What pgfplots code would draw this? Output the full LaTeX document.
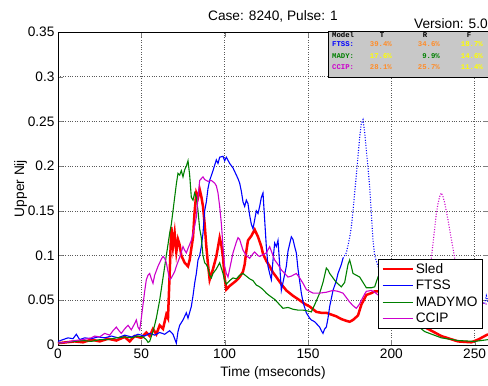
\documentclass[border=0pt]{standalone}
\usepackage{fontspec}
\setmainfont{Liberation Sans}
\setmonofont{Liberation Mono}
\usepackage{pgfplots}
\pgfplotsset{compat=1.18}

\definecolor{mlred}{RGB}{255,0,0}
\definecolor{mlblue}{RGB}{0,0,255}
\definecolor{mlgreen}{RGB}{0,128,0}
\definecolor{mlmag}{RGB}{204,0,204}
\definecolor{tblgray}{RGB}{200,200,200}
\definecolor{tblorange}{RGB}{255,140,40}
\definecolor{tblyellow}{RGB}{255,255,0}

\newcommand{\lbl}{\fontsize{13.7}{15}\selectfont}
\newcommand{\tbl}{\fontsize{7.3}{8}\selectfont\ttfamily\bfseries}

\begin{document}
\begin{tikzpicture}
\begin{axis}[
  name=ax,
  scale only axis,
  width=430pt, height=313pt,
  xmin=0, xmax=258,
  ymin=0, ymax=0.35,
  xtick={0,50,100,150,200,250},
  ytick={0,0.05,0.1,0.15,0.2,0.25,0.3,0.35},
  yticklabels={0,0.05,0.1,0.15,0.2,0.25,0.3,0.35},
  xticklabels={0,50,100,150,200,250},
  scaled y ticks=false,
  tick label style={font=\lbl},
  label style={font=\lbl},
  xlabel={Time (mseconds)},
  ylabel={Upper Nij},
  xlabel style={yshift=-1pt},
  ylabel style={yshift=-6pt},
  tick align=inside,
  major tick length=5pt,
  grid=major,
  major grid style={dotted, black!65, line width=0.6pt},
  axis line style={line width=0.8pt},
  clip=false,
  legend image code/.code={\draw[#1] (0pt,0pt) -- (30pt,0pt);},
  legend style={at={(0.988,0.275)}, anchor=north east, draw=black,
    line width=0.8pt, fill=white, font=\lbl, row sep=1.5pt,
    inner xsep=3pt, inner ysep=2pt, cells={anchor=west}},
]
% Sled
\addplot[mlred, line width=2.5pt] coordinates {
(0,0.002)(5,0.003)(10,0.004)(15,0.003)(20,0.006)(25,0.004)(30,0.007)(35,0.005)
(40,0.009)(43,0.004)(46,0.010)(50,0.008)(53,0.014)(55,0.010)(57,0.018)(59,0.012)
(61,0.022)(63,0.018)(65,0.034)(66,0.030)(67,0.080)(68,0.132)(69,0.110)(70,0.125)
(71,0.104)(72,0.118)(73,0.112)(74,0.100)(76,0.092)(78,0.088)(79,0.095)(80,0.108)
(81,0.120)(82,0.150)(83,0.170)(84,0.165)(85,0.174)(86,0.166)(87,0.155)(88,0.135)
(89,0.110)(90,0.090)(91,0.073)(93,0.085)(95,0.099)(97,0.120)(98,0.112)(99,0.098)
(100,0.075)(101,0.062)(103,0.066)(105,0.069)(107,0.072)(109,0.076)(111,0.082)
(112,0.090)(113,0.105)(114,0.117)(116,0.122)(118,0.129)(120,0.121)(122,0.110)
(123,0.102)(125,0.094)(127,0.088)(129,0.081)(131,0.076)(134,0.068)(137,0.061)
(141,0.055)(145,0.050)(148,0.046)(151,0.043)(155,0.037)(158,0.036)(161,0.036)
(164,0.034)(167,0.032)(170,0.029)(173,0.027)(175,0.026)(177,0.028)(180,0.033)
(182,0.045)(185,0.056)(188,0.058)(190,0.060)(195,0.060)(200,0.055)(210,0.040)
(220,0.020)(230,0.010)(240,0.004)(248,0.003)(252,0.006)(255,0.009)(258,0.012)
};
\addlegendentry{Sled}
% FTSS
\addplot[mlblue, line width=1.1pt] coordinates {
(0,0.004)(3,0.006)(6,0.008)(9,0.007)(11,0.012)(13,0.006)(16,0.008)(20,0.007)
(24,0.009)(28,0.008)(32,0.010)(36,0.008)(40,0.011)(44,0.009)(48,0.012)(52,0.010)
(55,0.013)(58,0.011)(61,0.014)(64,0.012)(67,0.016)(69,0.012)(71,0.002)(72,0.015)
(73,0.022)(75,0.028)(77,0.036)(78,0.030)(80,0.043)(81,0.055)(82,0.069)(83,0.080)
(84,0.095)(85,0.100)(86,0.110)(87,0.125)(88,0.150)(89,0.160)(90,0.175)(91,0.184)
(93,0.195)(95,0.207)(96,0.203)(97,0.210)(99,0.211)(100,0.206)(101,0.210)(103,0.203)
(105,0.198)(106,0.194)(108,0.186)(109,0.181)(110,0.172)(111,0.160)(112,0.155)
(113,0.162)(114,0.158)(115,0.145)(116,0.135)(117,0.130)(118,0.140)(119,0.150)
(120,0.147)(121,0.155)(122,0.165)(123,0.170)(124,0.140)(125,0.110)(126,0.088)
(127,0.080)(128,0.073)(129,0.095)(130,0.114)(131,0.110)(132,0.117)(133,0.090)
(134,0.061)(135,0.070)(137,0.088)(138,0.105)(140,0.121)(141,0.118)(142,0.110)
(143,0.103)(144,0.085)(146,0.058)(147,0.048)(149,0.036)(151,0.030)(152,0.028)
(154,0.026)(155,0.024)(157,0.020)(158,0.016)(159,0.013)(160,0.018)(161,0.020)
(162,0.030)(163,0.043)(164,0.052)(165,0.061)(167,0.072)(168,0.080)(170,0.090)
(171,0.097)
};
\addlegendentry{FTSS}
% MADYMO
\addplot[mlgreen, line width=1.1pt] coordinates {
(0,0.002)(5,0.003)(10,0.004)(15,0.005)(20,0.004)(25,0.006)(30,0.006)(35,0.008)
(40,0.009)(44,0.008)(48,0.010)(51,0.009)(53,0.006)(54,0.003)(55,0.004)(57,0.015)
(59,0.030)(61,0.050)(63,0.075)(65,0.100)(67,0.125)(68,0.135)(69,0.150)(70,0.165)
(71,0.180)(72,0.192)(73,0.190)(74,0.195)(75,0.188)(76,0.196)(77,0.200)(78,0.206)
(79,0.190)(80,0.165)(81,0.162)(82,0.170)(83,0.165)(84,0.150)(85,0.130)(86,0.120)
(87,0.100)(88,0.092)(89,0.090)(90,0.086)(91,0.078)(92,0.075)(93,0.080)(95,0.085)
(97,0.092)(98,0.086)(99,0.080)(100,0.072)(101,0.068)(103,0.072)(105,0.075)
(107,0.074)(109,0.078)(111,0.080)(113,0.077)(115,0.074)(117,0.072)(119,0.067)
(121,0.065)(123,0.062)(125,0.058)(127,0.055)(130,0.051)(133,0.045)(135,0.041)
(138,0.042)(141,0.040)(144,0.039)(147,0.039)(150,0.038)(152,0.037)(154,0.045)
(157,0.058)(159,0.070)(161,0.086)(162,0.084)(163,0.080)(165,0.075)(167,0.070)
(170,0.065)(172,0.070)(174,0.090)(175,0.095)(176,0.088)(177,0.080)(179,0.078)
(181,0.076)(183,0.070)(185,0.064)(188,0.064)(190,0.065)(192,0.076)(195,0.070)
(200,0.050)(210,0.030)(220,0.015)(230,0.008)(240,0.005)(250,0.004)(258,0.006)
};
\addlegendentry{MADYMO}
% CCIP
\addplot[mlmag, line width=1.1pt] coordinates {
(0,0.002)(5,0.003)(10,0.005)(15,0.006)(20,0.008)(22,0.010)(25,0.009)(28,0.013)
(31,0.011)(33,0.016)(35,0.020)(37,0.015)(38,0.013)(40,0.018)(42,0.022)(44,0.017)
(46,0.024)(47,0.028)(48,0.020)(49,0.017)(50,0.030)(51,0.045)(52,0.060)(53,0.073)
(54,0.078)(55,0.080)(56,0.074)(57,0.069)(58,0.078)(60,0.088)(62,0.096)(63,0.099)
(64,0.097)(65,0.092)(66,0.082)(67,0.073)(68,0.075)(70,0.082)(71,0.088)(73,0.098)
(75,0.110)(76,0.106)(77,0.103)(78,0.108)(80,0.117)(81,0.125)(82,0.133)(83,0.143)
(84,0.165)(85,0.184)(86,0.186)(87,0.188)(88,0.185)(90,0.183)(92,0.184)(94,0.181)
(95,0.178)(96,0.170)(97,0.155)(98,0.136)(99,0.110)(100,0.088)(101,0.080)
(102,0.076)(103,0.085)(105,0.103)(107,0.115)(108,0.120)(109,0.118)(111,0.106)
(113,0.100)(115,0.097)(117,0.102)(118,0.104)(120,0.100)(121,0.099)(123,0.101)
(125,0.103)(127,0.110)(128,0.105)(130,0.095)(132,0.090)(134,0.084)(136,0.080)
(138,0.076)(140,0.077)(143,0.080)(145,0.075)(147,0.069)(149,0.062)(151,0.060)
(153,0.058)(157,0.058)(161,0.059)(165,0.061)(168,0.060)(171,0.058)(173,0.053)
(175,0.048)(177,0.044)(179,0.041)(181,0.046)(182,0.050)(184,0.057)(185,0.060)
(188,0.061)(190,0.059)(192,0.056)(200,0.055)
};
\addlegendentry{CCIP}
% dotted continuations
\addplot[mlblue, line width=1.1pt, dash pattern=on 1pt off 1.6pt, forget plot] coordinates {
(171,0.097)(173,0.103)(175,0.120)(176,0.132)(177,0.150)(178,0.170)(179,0.190)
(180,0.211)(181,0.232)(182,0.248)(183,0.252)(184,0.238)(185,0.218)(186,0.198)
(187,0.177)(188,0.147)(189,0.117)(190,0.100)(192,0.088)(195,0.075)(200,0.060)
(210,0.045)(220,0.040)(230,0.045)(240,0.050)(250,0.052)(256,0.046)(257,0.055)(258,0.048)
};
\addplot[mlmag, line width=1.1pt, dash pattern=on 1pt off 1.6pt, forget plot] coordinates {
(200,0.055)(210,0.050)(218,0.060)(222,0.085)(224,0.097)(226,0.130)(227,0.147)
(228,0.158)(229,0.166)(230,0.170)(231,0.166)(232,0.159)(234,0.140)(235,0.129)
(237,0.108)(238,0.097)(240,0.080)(245,0.060)(250,0.050)(258,0.045)
};
% percentage table
\draw[black, line width=0.8pt, fill=tblgray] (axis cs:162,0.2997) rectangle (axis cs:258,0.3511);
\node[anchor=west, inner sep=0pt] at (axis cs:164.4,0.3464) {\tbl Model};
\node[inner sep=0pt] at (axis cs:194.4,0.3464) {\tbl T};
\node[inner sep=0pt] at (axis cs:220.2,0.3464) {\tbl R};
\node[inner sep=0pt] at (axis cs:246.6,0.3464) {\tbl F};
\node[anchor=west, inner sep=0pt, text=mlblue] at (axis cs:164.4,0.3360) {\tbl FTSS:};
\node[anchor=east, inner sep=0pt, text=tblorange] at (axis cs:200.4,0.3360) {\tbl 39.4\%};
\node[anchor=east, inner sep=0pt, text=tblorange] at (axis cs:229.2,0.3360) {\tbl 34.6\%};
\node[anchor=east, inner sep=0pt, text=tblyellow] at (axis cs:255.0,0.3360) {\tbl 18.7\%};
\node[anchor=west, inner sep=0pt, text=mlgreen] at (axis cs:164.4,0.3232) {\tbl MADY:};
\node[anchor=east, inner sep=0pt, text=tblyellow] at (axis cs:200.4,0.3232) {\tbl 17.6\%};
\node[anchor=east, inner sep=0pt, text=mlgreen] at (axis cs:229.2,0.3232) {\tbl 9.9\%};
\node[anchor=east, inner sep=0pt, text=tblyellow] at (axis cs:255.0,0.3232) {\tbl 14.6\%};
\node[anchor=west, inner sep=0pt, text=mlmag] at (axis cs:164.4,0.3109) {\tbl CCIP:};
\node[anchor=east, inner sep=0pt, text=tblorange] at (axis cs:200.4,0.3109) {\tbl 28.1\%};
\node[anchor=east, inner sep=0pt, text=tblorange] at (axis cs:229.2,0.3109) {\tbl 25.7\%};
\node[anchor=east, inner sep=0pt, text=tblyellow] at (axis cs:255.0,0.3109) {\tbl 11.4\%};
\end{axis}
\node[anchor=base, font=\lbl] at ([yshift=11pt]ax.north) {Case: 8240, Pulse: 1};
\node[anchor=base east, font=\lbl, inner sep=0pt] at ([yshift=3.5pt]ax.north east) {Version: 5.0};
\pgfresetboundingbox
\path ([xshift=-58pt,yshift=-41pt]ax.south west) rectangle ([yshift=32pt]ax.north east);
\end{tikzpicture}
\end{document}
